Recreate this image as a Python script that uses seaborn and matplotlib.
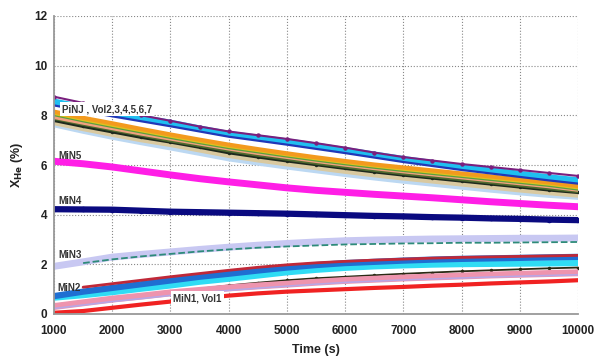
import matplotlib
matplotlib.use("Agg")
import matplotlib.pyplot as plt
import seaborn as sns
import pandas as pd

# ---- data ----
time_s = [1000, 1500, 2000, 2500, 3000, 3500, 4000, 4500, 5000, 5500,
          6000, 6500, 7000, 7500, 8000, 8500, 9000, 9500, 10000]

# PiNJ, Vol2..7 group
pinj_purple = [8.75, 8.5, 8.22, 8.0, 7.78, 7.55, 7.35, 7.2, 7.05, 6.88, 6.7, 6.5, 6.32, 6.18, 6.04, 5.92, 5.8, 5.68, 5.56]
pinj_cyan = [8.55, 8.32, 8.1, 7.9, 7.7, 7.47, 7.25, 7.1, 6.95, 6.78, 6.6, 6.42, 6.24, 6.08, 5.92, 5.78, 5.64, 5.5, 5.38]
pinj_blue = [8.4, 8.18, 7.96, 7.76, 7.56, 7.35, 7.14, 6.98, 6.82, 6.65, 6.48, 6.3, 6.12, 5.96, 5.8, 5.66, 5.52, 5.38, 5.25]
pinj_orange = [8.15, 7.9, 7.68, 7.45, 7.23, 7.02, 6.82, 6.64, 6.47, 6.31, 6.16, 6.02, 5.9, 5.78, 5.66, 5.54, 5.42, 5.3, 5.15]
pinj_gold = [8.1, 7.85, 7.62, 7.4, 7.18, 6.97, 6.77, 6.6, 6.43, 6.27, 6.12, 5.98, 5.85, 5.73, 5.61, 5.49, 5.37, 5.25, 5.1]
pinj_green = [8.05, 7.8, 7.57, 7.35, 7.13, 6.92, 6.72, 6.55, 6.38, 6.22, 6.07, 5.93, 5.8, 5.68, 5.56, 5.44, 5.32, 5.2, 5.05]
pinj_salmon = [7.95, 7.72, 7.5, 7.28, 7.08, 6.88, 6.68, 6.5, 6.34, 6.18, 6.03, 5.89, 5.76, 5.64, 5.52, 5.4, 5.28, 5.16, 5.02]
pinj_olive = [7.88, 7.64, 7.42, 7.2, 6.98, 6.78, 6.58, 6.4, 6.24, 6.08, 5.93, 5.79, 5.66, 5.54, 5.42, 5.3, 5.18, 5.06, 4.94]
pinj_black = [7.8, 7.56, 7.34, 7.12, 6.93, 6.72, 6.5, 6.33, 6.17, 6.02, 5.87, 5.73, 5.6, 5.48, 5.36, 5.24, 5.12, 5.0, 4.9]
pinj_tan = [7.7, 7.46, 7.23, 7.01, 6.82, 6.6, 6.38, 6.2, 6.04, 5.89, 5.74, 5.6, 5.47, 5.35, 5.23, 5.11, 4.99, 4.88, 4.78]
pinj_lightblue = [7.6, 7.34, 7.1, 6.88, 6.67, 6.45, 6.23, 6.06, 5.9, 5.75, 5.6, 5.46, 5.33, 5.21, 5.09, 4.97, 4.86, 4.76, 4.68]

min5 = [6.15, 6.05, 5.92, 5.76, 5.6, 5.45, 5.32, 5.2, 5.08, 4.98, 4.9, 4.82, 4.75, 4.68, 4.6, 4.52, 4.45, 4.38, 4.32]
min4 = [4.22, 4.21, 4.2, 4.16, 4.12, 4.1, 4.08, 4.06, 4.04, 4.01, 3.98, 3.95, 3.93, 3.9, 3.88, 3.85, 3.83, 3.8, 3.78]

min3_lavender = [1.92, 2.1, 2.29, 2.4, 2.5, 2.6, 2.69, 2.77, 2.84, 2.9, 2.95, 2.98, 3.0, 3.02, 3.03, 3.04, 3.05, 3.05, 3.06]
min3_teal = [None, 2.05, 2.2, 2.32, 2.42, 2.52, 2.6, 2.67, 2.72, 2.76, 2.8, 2.82, 2.84, 2.85, 2.87, 2.87, 2.88, 2.89, 2.9]

min2_red = [None, 1.08, 1.22, 1.36, 1.5, 1.63, 1.76, 1.88, 1.98, 2.06, 2.12, 2.17, 2.21, 2.25, 2.28, 2.3, 2.32, 2.34, 2.36]
min2_blue = [0.72, 0.9, 1.05, 1.2, 1.35, 1.5, 1.62, 1.75, 1.87, 1.97, 2.05, 2.1, 2.15, 2.19, 2.22, 2.24, 2.26, 2.28, 2.3]
min2_cyan = [0.66, 0.76, 0.88, 1.02, 1.15, 1.3, 1.42, 1.55, 1.68, 1.78, 1.86, 1.92, 1.96, 1.99, 2.01, 2.02, 2.03, 2.04, 2.05]
min2_dark = [0.38, 0.5, 0.62, 0.76, 0.89, 1.02, 1.15, 1.26, 1.36, 1.44, 1.5, 1.56, 1.62, 1.67, 1.72, 1.76, 1.8, 1.84, 1.87]

min1_pink = [0.3, 0.45, 0.6, 0.72, 0.85, 0.95, 1.05, 1.13, 1.2, 1.28, 1.35, 1.4, 1.45, 1.49, 1.53, 1.57, 1.6, 1.63, 1.66]
min1_lilac = [0.22, 0.36, 0.5, 0.62, 0.75, 0.85, 0.95, 1.04, 1.12, 1.2, 1.27, 1.32, 1.37, 1.41, 1.45, 1.49, 1.52, 1.55, 1.58]
min1_red = [0.05, 0.12, 0.25, 0.38, 0.5, 0.62, 0.74, 0.83, 0.9, 0.95, 1.0, 1.05, 1.09, 1.14, 1.18, 1.23, 1.27, 1.31, 1.36]

x_ticks = [1000, 2000, 3000, 4000, 5000, 6000, 7000, 8000, 9000, 10000]
y_ticks = [0, 2, 4, 6, 8, 10, 12]

# ---- plotting ----
sns.set_theme(style="white")
plt.rcParams['font.family'] = ['Liberation Sans', 'DejaVu Sans']

fig = plt.figure(figsize=(5.95, 3.62), dpi=100)
ax = fig.add_axes([54 / 595, 1 - 314 / 362, (578 - 54) / 595, (314 - 16) / 362])

def draw(vals, color, lw, marker=None, ms=0, ls='-', z=2):
    df = pd.DataFrame({'t': time_s, 'v': vals}).dropna()
    sns.lineplot(data=df, x='t', y='v', ax=ax, color=color, lw=lw, ls=ls,
                 marker=marker, markersize=ms, markeredgewidth=0,
                 zorder=z, legend=False, errorbar=None)

# upper group
draw(pinj_lightblue, '#BCD8F2', 3.0)
draw(pinj_tan, '#D9C9A0', 3.5)
draw(pinj_black, '#1E2A1E', 2.5, marker='o', ms=2.5)
draw(pinj_olive, '#4F6B2F', 2.5)
draw(pinj_salmon, '#F2A080', 3.5)
draw(pinj_green, '#5AA040', 3.0)
draw(pinj_gold, '#E0C020', 3.0)
draw(pinj_orange, '#F39A1E', 3.0)
draw(pinj_cyan, '#20BFF0', 4.5)
draw(pinj_blue, '#2038B8', 1.6)
draw(pinj_purple, '#7A1F7E', 1.5, marker='o', ms=3.2)

# MiN5, MiN4
draw(min5, '#FF1EE6', 5.0)
draw(min4, '#0A0A80', 4.5, marker='o', ms=4)

# MiN3
draw(min3_lavender, '#C8C8F2', 5.0)
draw(min3_teal, '#2E8B7A', 1.3, ls='--')

# MiN2
draw(min2_cyan, '#30DCF4', 4.5)
draw(min2_blue, '#1F6FD2', 4.5)
draw(min2_red, '#C02838', 2.0)
draw(min2_dark, '#2A2A14', 1.3, marker='o', ms=2.5)

# MiN1
draw(min1_pink, '#EE94AE', 5.0)
draw(min1_lilac, '#B8A6E6', 1.2)
draw(min1_red, '#F02222', 3.0)

# axes styling
ax.set_xlim(1000, 10000)
ax.set_ylim(0, 12)
ax.set_xticks(x_ticks)
ax.set_yticks(y_ticks)
ax.set_xticklabels([str(v) for v in x_ticks], fontweight='bold', fontsize=8.5, color='#222222')
ax.set_yticklabels([str(v) for v in y_ticks], fontweight='bold', fontsize=8.5, color='#222222')
ax.grid(True, ls=':', color='#888888', lw=0.8)
ax.set_axisbelow(True)
for s in ['top', 'right']:
    ax.spines[s].set_visible(False)
for s in ['left', 'bottom']:
    ax.spines[s].set_color('#999999')
    ax.spines[s].set_linewidth(1.3)
ax.tick_params(axis='both', length=3, color='#999999', direction='in')
ax.tick_params(axis='x', pad=8)
ax.tick_params(axis='y', pad=5)
ax.set_xlabel('Time (s)', fontweight='bold', fontsize=9, color='#222222', labelpad=5)
ax.set_ylabel(r'X$_{\mathbf{He}}$ (%)', fontweight='bold', fontsize=9, color='#222222', labelpad=6)

# annotations
lab_kw = dict(fontsize=7, fontweight='bold', color='#333333', va='center', ha='left', zorder=10)
ax.text(1130, 8.25, 'PiNJ , Vol2,3,4,5,6,7',
        bbox=dict(facecolor='white', edgecolor='none', pad=1.5), **lab_kw)
ax.text(1070, 6.38, 'MiN5', **lab_kw)
ax.text(1070, 4.55, 'MiN4', **lab_kw)
ax.text(1070, 2.38, 'MiN3', **lab_kw)
ax.text(1060, 1.05, 'MiN2', **lab_kw)
ax.text(3050, 0.63, 'MiN1, Vol1',
        bbox=dict(facecolor='white', edgecolor='none', pad=1.5), **lab_kw)

fig.savefig('out.png', dpi=100)
